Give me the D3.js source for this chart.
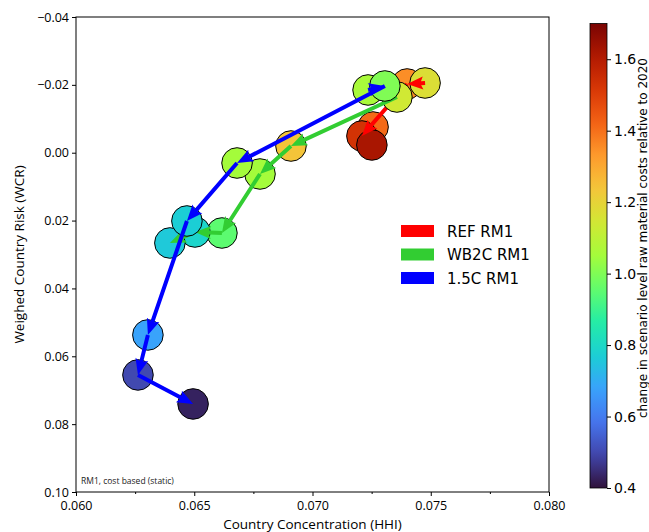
<!DOCTYPE html>
<html>
<head>
<meta charset="utf-8">
<script src="https://cdn.jsdelivr.net/npm/d3@7"></script>
<style>
  html, body { margin: 0; padding: 0; background: #fff; }
  svg { display: block; }
</style>
</head>
<body>
<svg id="chart" width="649" height="532"></svg>
<script>
// Scenario trajectories: HHI (x), weighed country risk (y), cost change vs 2020 (colour)
const refHHI  = [0.07400, 0.07476, 0.07256, 0.07209, 0.07251];
const refWCR  = [-0.02026, -0.02055, -0.00758, -0.00493, -0.00228];
const refCost = [1.35, 1.17, 1.41, 1.53, 1.62];
const refSteps = [[1, 0], [0, 3]];

const wb2cHHI  = [0.07357, 0.06909, 0.06778, 0.06617, 0.06503, 0.06397];
const wb2cWCR  = [-0.01642, -0.00198, 0.00627, 0.02366, 0.02336, 0.02660];
const wb2cCost = [1.14, 1.24, 1.05, 0.95, 0.79, 0.76];
const wb2cSteps = [[0, 1], [1, 2], [2, 3], [3, 4], [4, 5]];

const p15HHI  = [0.07235, 0.07306, 0.06681, 0.06469, 0.06304, 0.06262, 0.06495];
const p15WCR  = [-0.01849, -0.01967, 0.00303, 0.02012, 0.05371, 0.06550, 0.07405];
const p15Cost = [1.06, 1.00, 1.05, 0.77, 0.68, 0.50, 0.43];
const p15Steps = [[0, 1], [1, 2], [2, 3], [3, 4], [4, 5], [5, 6]];

const seriesNames  = ["REF RM1", "WB2C RM1", "1.5C RM1"];
const seriesColors = ["#ff0000", "#32cd32", "#0000ff"];

const xTicks = [0.060, 0.065, 0.070, 0.075, 0.080];
const xMinorTicks = [0.0625, 0.0675, 0.0725, 0.0775];
const yTicks = [-0.04, -0.02, 0.00, 0.02, 0.04, 0.06, 0.08, 0.10];
const cbTicks = [0.4, 0.6, 0.8, 1.0, 1.2, 1.4, 1.6];
const cbDomain = [0.4, 1.7];

// turbo colour map stops
const turboStops = ["#30123b","#4145ab","#4675ed","#39a2fc","#1bcfd4","#24eca6","#61fc6c",
  "#a4fc3b","#d1e834","#f3c63a","#fe9b2d","#f36315","#d93806","#b11901","#7a0403"];
const turbo = d3.piecewise(d3.interpolateRgb, turboStops);

const svg = d3.select("#chart");
const plot = {left: 76, right: 549, top: 17, bottom: 492};

const x = d3.scaleLinear().domain([0.06, 0.08]).range([plot.left, plot.right]);
const y = d3.scaleLinear().domain([-0.04, 0.10]).range([plot.top, plot.bottom]);
const cNorm = d3.scaleLinear().domain(cbDomain).range([0, 1]).clamp(true);
const colour = v => turbo(cNorm(v));

const tickFont = "'Open Sans', sans-serif";

// axes
const xAxis = svg.append("g")
  .attr("transform", `translate(0,${plot.bottom})`)
  .call(d3.axisBottom(x).tickValues(xTicks).tickFormat(d3.format(".3f")).tickSizeOuter(0).tickSize(4).tickPadding(5));
svg.append("g")
  .attr("transform", `translate(0,${plot.bottom})`)
  .call(d3.axisBottom(x).tickValues(xMinorTicks).tickFormat("").tickSizeOuter(0).tickSize(2))
  .select(".domain").remove();
const yAxis = svg.append("g")
  .attr("transform", `translate(${plot.left},0)`)
  .call(d3.axisLeft(y).tickValues(yTicks).tickFormat(d3.format(".2f")).tickSizeOuter(0).tickSize(4).tickPadding(3));
[xAxis, yAxis].forEach(g => {
  g.selectAll("text").attr("font-family", tickFont).attr("font-size", 12.5).attr("fill", "#000");
  g.selectAll("line").attr("stroke", "#000");
  g.select(".domain").remove();
});

// frame
svg.append("rect")
  .attr("x", plot.left).attr("y", plot.top)
  .attr("width", plot.right - plot.left).attr("height", plot.bottom - plot.top)
  .attr("fill", "none").attr("stroke", "#000").attr("stroke-width", 1);

// axis labels
svg.append("text")
  .attr("x", (plot.left + plot.right) / 2).attr("y", 529)
  .attr("text-anchor", "middle")
  .attr("font-family", tickFont).attr("font-size", 13.5)
  .text("Country Concentration (HHI)");
svg.append("text")
  .attr("transform", `translate(24,${(plot.top + plot.bottom) / 2}) rotate(-90)`)
  .attr("text-anchor", "middle")
  .attr("font-family", tickFont).attr("font-size", 13.5)
  .text("Weighed Country Risk (WCR)");

svg.append("text")
  .attr("x", 81).attr("y", 484)
  .attr("font-family", tickFont).attr("font-size", 8.5).attr("fill", "#222")
  .text("RM1, cost based (static)");

// arrows and points
const series = [
  {hhi: refHHI, wcr: refWCR, cost: refCost, steps: refSteps},
  {hhi: wb2cHHI, wcr: wb2cWCR, cost: wb2cCost, steps: wb2cSteps},
  {hhi: p15HHI, wcr: p15WCR, cost: p15Cost, steps: p15Steps}
];

const R = 15.3, shaftW = 4, headLen = 16, headNotch = 14, headHalf = 6.5;

function arrowPath(x0, y0, x1, y1) {
  const dx = x1 - x0, dy = y1 - y0, L = Math.hypot(dx, dy);
  const ux = dx / L, uy = dy / L, nx = -uy, ny = ux;
  const hl = Math.min(headLen, L), hn = Math.min(headNotch, L);
  const bx = x1 - ux * hl, by = y1 - uy * hl;
  const mx = x1 - ux * hn, my = y1 - uy * hn;
  const s = shaftW / 2;
  const pts = [];
  if (L > hn) {
    pts.push([x0 + nx * s, y0 + ny * s], [mx + nx * s, my + ny * s]);
    pts.push([bx + nx * headHalf, by + ny * headHalf], [x1, y1], [bx - nx * headHalf, by - ny * headHalf]);
    pts.push([mx - nx * s, my - ny * s], [x0 - nx * s, y0 - ny * s]);
  } else {
    pts.push([x0, y0], [bx + nx * headHalf, by + ny * headHalf], [x1, y1], [bx - nx * headHalf, by - ny * headHalf]);
  }
  return "M" + pts.map(p => p.join(",")).join("L") + "Z";
}

series.forEach((s, i) => {
  const g = svg.append("g");
  g.selectAll("circle")
    .data(s.hhi.map((h, k) => ({h, w: s.wcr[k], c: s.cost[k]})))
    .join("circle")
    .attr("cx", d => x(d.h)).attr("cy", d => y(d.w)).attr("r", R)
    .attr("fill", d => colour(d.c))
    .attr("stroke", "#000").attr("stroke-width", 1);
  g.selectAll("path")
    .data(s.steps)
    .join("path")
    .attr("d", ([a, b]) => arrowPath(x(s.hhi[a]), y(s.wcr[a]), x(s.hhi[b]), y(s.wcr[b])))
    .attr("fill", seriesColors[i]);
});

// legend
const legend = svg.append("g");
seriesNames.forEach((name, i) => {
  const cy = 231 + i * 23.5;
  legend.append("rect")
    .attr("x", 401).attr("y", cy - 6).attr("width", 33).attr("height", 12)
    .attr("fill", seriesColors[i]);
  legend.append("text")
    .attr("x", 447).attr("y", cy + 5.5)
    .attr("font-family", "'DejaVu Sans', sans-serif").attr("font-size", 15)
    .text(name);
});

// colour bar
const cb = {x: 590, w: 17, top: 23.5, bottom: 488};
const cy = d3.scaleLinear().domain(cbDomain).range([cb.bottom, cb.top]);
const defs = svg.append("defs");
const grad = defs.append("linearGradient").attr("id", "cbgrad")
  .attr("x1", 0).attr("y1", 1).attr("x2", 0).attr("y2", 0);
d3.range(0, 1.0001, 0.02).forEach(t => {
  grad.append("stop").attr("offset", t).attr("stop-color", turbo(t));
});
svg.append("rect")
  .attr("x", cb.x).attr("y", cb.top).attr("width", cb.w).attr("height", cb.bottom - cb.top)
  .attr("fill", "url(#cbgrad)").attr("stroke", "#000").attr("stroke-width", 0.8);
const cbAxis = svg.append("g")
  .attr("transform", `translate(${cb.x + cb.w},0)`)
  .call(d3.axisRight(cy).tickValues(cbTicks).tickFormat(d3.format(".1f")).tickSize(4).tickPadding(3));
cbAxis.select(".domain").remove();
cbAxis.selectAll("text").attr("font-family", "'DejaVu Sans', sans-serif").attr("font-size", 14).attr("fill", "#000");
cbAxis.selectAll("line").attr("stroke", "#000");

svg.append("text")
  .attr("transform", `translate(647,418) rotate(-90)`)
  .attr("text-anchor", "start")
  .attr("font-family", "'DejaVu Sans', sans-serif").attr("font-size", 12)
  .text("change in scenario level raw material costs relative to 2020");
</script>
</body>
</html>
